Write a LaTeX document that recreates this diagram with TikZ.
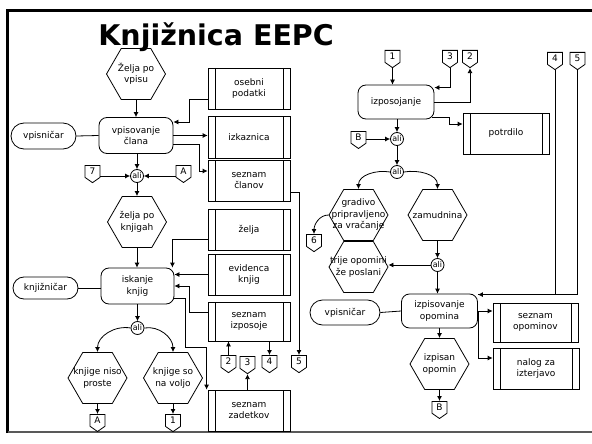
\documentclass[tikz,border=0pt]{standalone}
\usepackage{fontspec}
\setmainfont{DejaVu Sans}
\usetikzlibrary{shapes.geometric,shapes.misc,shapes.symbols,arrows.meta}

\tikzset{
  >={Latex[length=5pt,width=5pt]},
  funkcija/.style={draw, rounded corners=8pt, minimum width=74pt, minimum height=36pt, align=center, inner sep=1pt},
  dogodek/.style={draw, regular polygon, regular polygon sides=6, minimum size=59pt, inner sep=0pt,
    label={[align=center]center:#1}},
  podatek/.style={draw, minimum width=82pt, minimum height=41pt, align=center, inner sep=1pt,
    path picture={\draw ([xshift=7pt]path picture bounding box.north west) -- ([xshift=7pt]path picture bounding box.south west)
      ([xshift=-7pt]path picture bounding box.north east) -- ([xshift=-7pt]path picture bounding box.south east);}},
  enota/.style={draw, rounded rectangle, minimum width=67pt, minimum height=26pt, inner sep=1pt},
  veznik/.style={draw, circle, minimum size=13pt, inner sep=0pt, font=\fontsize{8}{9}\selectfont},
  prehod/.style={draw, signal, signal to=south, signal pointer angle=110, minimum width=15pt, minimum height=14pt, inner sep=0pt, anchor=north},
}

\begin{document}
\begin{tikzpicture}[x=1pt,y=-1pt,line width=0.8pt,font=\fontsize{9}{11.5}\selectfont]

\fill[white] (0,0) rectangle (592,444);
\useasboundingbox (0,0) rectangle (592,444);

% okvir
\draw[line width=2.7pt] (7.5,433) -- (7.5,10.3) -- (592,10.3);
\draw[line width=2.3pt, black!65] (7.5,432) -- (592,432);

\node[anchor=base west, inner sep=0pt, font=\bfseries\fontsize{28.5}{30}\selectfont] (naslov) at (98,46) {Knjižnica EEPC};

% vpis
\node[dogodek={Želja po\\vpisu}] (zeljavpis) at (136,74) {};
\node[funkcija] (vpis) at (136,135.5) {vpisovanje\\člana};
\node[enota] (vpisnicar) at (43.5,136) {vpisničar};
\node[podatek] (osebni) at (249,88.5) {osebni\\podatki};
\node[podatek, minimum height=42pt] (izkaznica) at (249,137) {izkaznica};
\node[podatek] (clani) at (249,180.5) {seznam\\članov};
\node[veznik] (ali1) at (137,176) {ali};
\node[prehod] (p7) at (92.5,165) {7};
\node[prehod] (pA) at (183.5,165) {A};

% iskanje
\node[dogodek={želja po\\knjigah}] (zeljaknj) at (137,222) {};
\node[funkcija, minimum width=73pt] (iskanje) at (137.5,286) {iskanje\\knjig};
\node[enota, minimum height=22pt] (knjiznicar) at (45.5,288) {knjižničar};
\node[podatek] (zelja) at (249,230) {želja};
\node[podatek] (evidenca) at (249,274.5) {evidenca\\knjig};
\node[podatek, minimum height=39pt] (izposoje) at (249,321.5) {seznam\\izposoje};
\node[podatek] (zadetki) at (249,410.5) {seznam\\zadetkov};
\node[veznik] (ali2) at (137.5,328) {ali};
\node[dogodek={knjige niso\\proste}] (niso) at (97.5,378) {};
\node[dogodek={knjige so\\na voljo}] (voljo) at (173,378) {};
\node[prehod] (pAs) at (97.5,414) {A};
\node[prehod] (p1s) at (173,414) {1};
\node[prehod] (p2s) at (228.5,355) {2};
\node[prehod] (p3s) at (247.5,356) {3};
\node[prehod] (p4s) at (269.5,355) {4};
\node[prehod] (p5s) at (299,355) {5};

% izposoja
\node[prehod] (p1) at (392.5,50) {1};
\node[funkcija, minimum width=76pt, minimum height=34pt] (izposojanje) at (396,102) {izposojanje};
\node[prehod] (p3) at (450,50) {3};
\node[prehod] (p2) at (470,50) {2};
\node[podatek, minimum width=86pt] (potrdilo) at (506,133.5) {potrdilo};
\node[veznik] (ali3) at (397,139) {ali};
\node[prehod] (pB) at (358.5,131) {B};
\node[veznik] (ali4) at (397,172) {ali};
\node[dogodek={gradivo\\pripravljeno\\za vračanje}] (gradivo) at (358.5,215) {};
\node[dogodek={zamudnina}] (zamudnina) at (437.5,215) {};
\node[prehod] (p6) at (314,234) {6};
\node[dogodek={trije opomini\\že poslani}] (trije) at (358.5,267) {};
\node[veznik] (ali5) at (437.5,265) {ali};

% opomini
\node[funkcija, minimum width=76pt, minimum height=34pt] (izpisovanje) at (439.5,311) {izpisovanje\\opomina};
\node[enota, minimum width=72pt, minimum height=25pt] (vpisnicar2) at (345,312.5) {vpisničar};
\node[prehod] (p4) at (555,52) {4};
\node[prehod] (p5) at (577.5,52) {5};
\node[podatek, minimum width=85pt, minimum height=39pt] (opomini) at (535.5,322.5) {seznam\\opominov};
\node[podatek, minimum width=86pt] (nalog) at (536,368.5) {nalog za\\izterjavo};
\node[dogodek={izpisan\\opomin}] (izpisan) at (439.5,364) {};
\node[prehod] (pBs) at (439.5,401) {B};

% povezave levo
\draw[->] (zeljavpis.south) -- (vpis.north);
\draw (vpisnicar.east) -- (vpis.west);
\draw[->] ([yshift=-10.5pt]osebni.west) -- ++(-18,0) |- ([yshift=13.5pt]vpis.east);
\draw[->] (vpis.east) -- (vpis.east -| izkaznica.west);
\draw[->] ([yshift=-8.5pt]vpis.east) -- ++(26,0) |- ([yshift=9.5pt]clani.west);
\draw[->] (vpis.south -| ali1) -- (ali1.north);
\draw[->] (p7.east |- ali1.west) -- (ali1.west);
\draw[->] (pA.west |- ali1.east) -- (ali1.east);
\draw[->] (ali1.south) -- (zeljaknj.north);
\draw[->] (zeljaknj.south) -- (zeljaknj.south |- iskanje.north);
\draw (knjiznicar.east) -- (knjiznicar.east -| iskanje.west);
\draw[->] ([yshift=-9pt]zelja.west) -| ([xshift=-2pt]iskanje.north east);
\draw[->] (evidenca.west) -- (evidenca.west -| iskanje.east);
\draw[->] ([yshift=9.5pt]izposoje.west) -- ++(-18,0) |- (iskanje.east);
\draw[->] ([yshift=-12pt]iskanje.east) -- ++(11,0) -- ++(0,49) -| ([xshift=-1pt]zadetki.north west);
\draw[->] (iskanje.south) -- (ali2.north);
\draw[->] (ali2.west) to[out=170,in=90] (niso.north);
\draw[->] (ali2.east) to[out=10,in=90] (voljo.north);
\draw[->] (niso.south) -- (pAs.north);
\draw[->] (voljo.south) -- (p1s.north);
\draw[->] (p2s.north) -- (p2s.north |- izposoje.south);
\draw[->] (zadetki.north -| p3s.south) -- (p3s.south);
\draw[->] (p4s.north |- izposoje.south) -- (p4s.north);
\draw[->] ([yshift=-11.5pt]clani.east) -| (p5s.north);

% povezave desno
\draw[->] (p1.south) -- (p1.south |- izposojanje.north);
\draw[->] (p3.south) |- ([yshift=-3pt]izposojanje.north east);
\draw[->] (izposojanje.east) -| (p2.south);
\draw[->] ([yshift=-15pt,xshift=-2pt]izposojanje.east) -- ++(17,0) |- ([yshift=9.5pt]potrdilo.west);
\draw[->] (izposojanje.south -| ali3) -- (ali3.north);
\draw[->] (pB.east |- ali3.west) -- (ali3.west);
\draw[->] (ali3.south) -- (ali4.north);
\draw[->] (ali4.west) to[out=170,in=90] (gradivo.north);
\draw[->] (ali4.east) to[out=10,in=90] (zamudnina.north);
\draw[->] (gradivo.west) to[out=180,in=90] (p6.north);
\draw[->] (zamudnina.south) -- (ali5.north);
\draw[->] (ali5.west) -- (ali5.west -| trije.east);
\draw[->] (ali5.south) -- (ali5.south |- izpisovanje.north);
\draw (p5.south) |- ([yshift=-1pt]izpisovanje.north east);
\draw[->] (p4.south) |- ([yshift=-1pt]izpisovanje.north east);
\draw (vpisnicar2.east) -- (izpisovanje.west);
\draw[->] (izpisovanje.east) -- (izpisovanje.east -| opomini.west);
\draw[->] (izpisovanje.east) |- ([yshift=10.5pt]nalog.west);
\draw[->] (izpisovanje.south) -- (izpisan.north);
\draw[->] (izpisan.south) -- (pBs.north);

\end{tikzpicture}
\end{document}
